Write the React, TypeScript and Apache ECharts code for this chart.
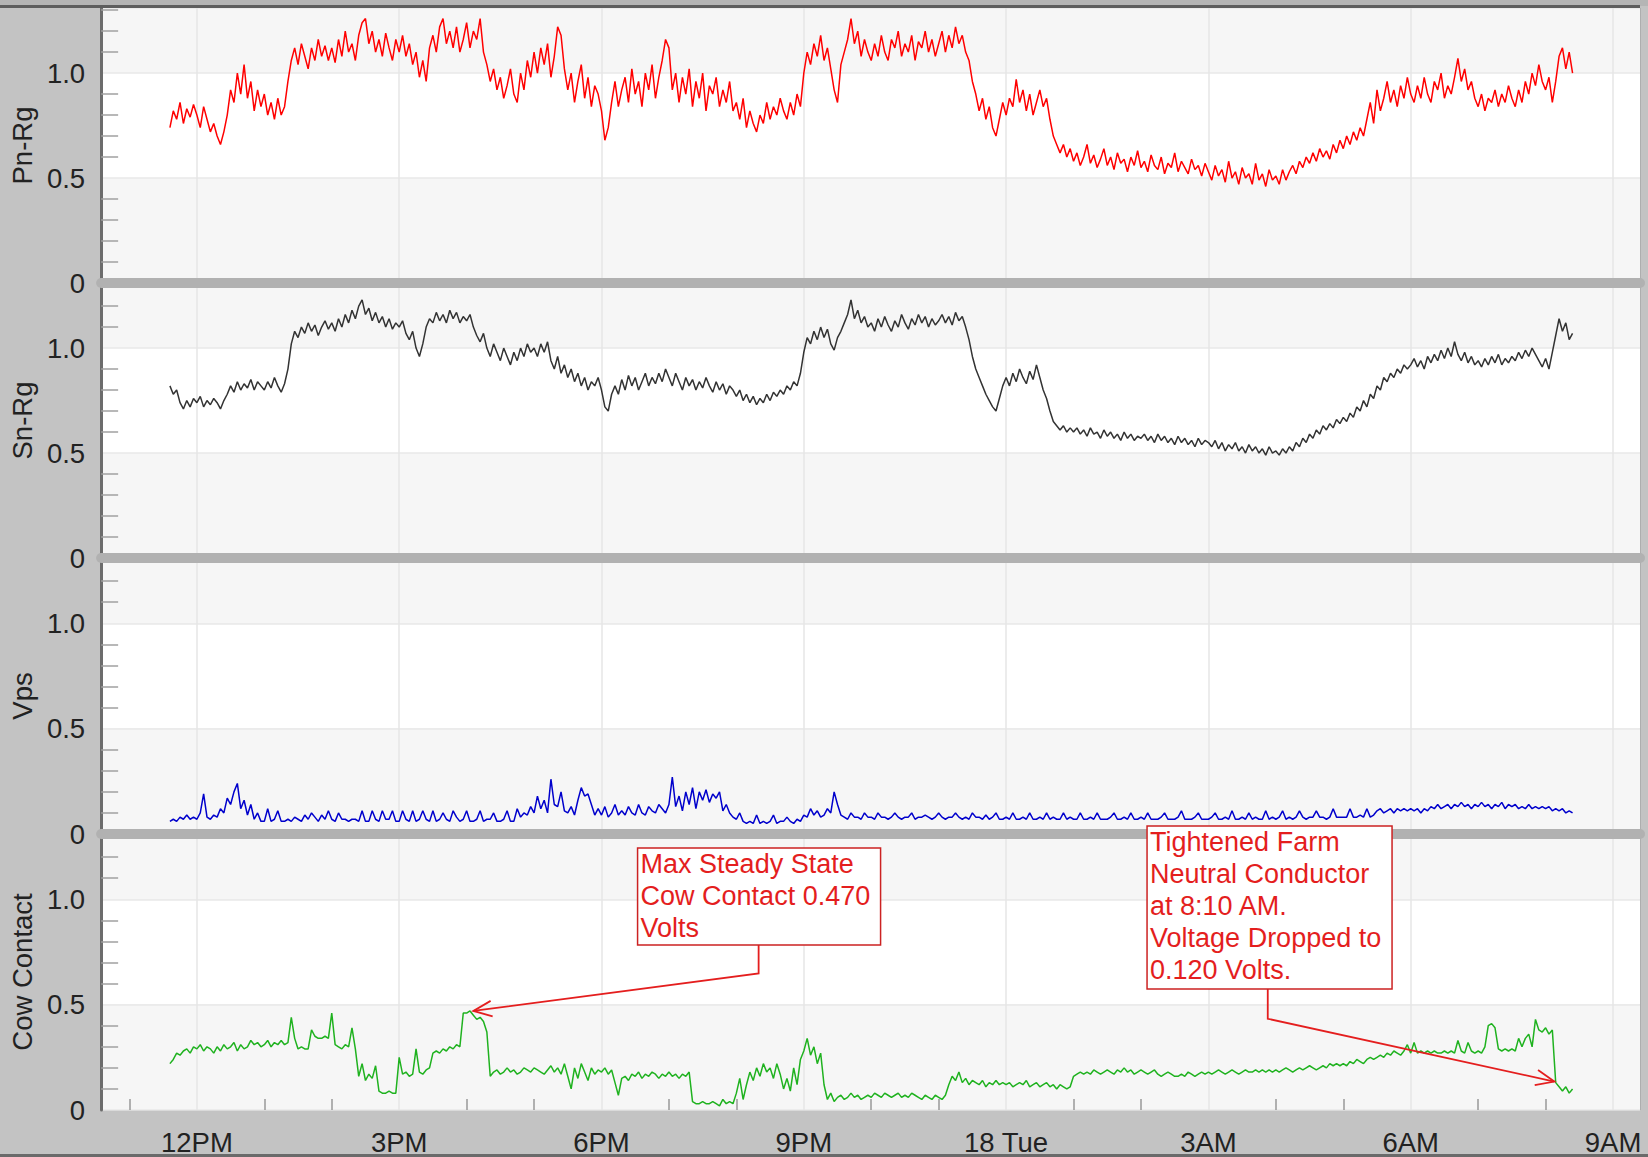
import { useEffect, useRef } from 'react';
import * as echarts from 'echarts';

const FONT = '"Liberation Sans", Arial, sans-serif';

// sampling grid (hours since midnight Monday; 24 = "18 Tue")
const T0 = 11.6;
const STEP = 0.05;

const X_MIN = 10.58;
const X_MAX = 33.4;
const Y_MAX = 1.31;

const xTickHours = [12, 15, 18, 21, 24, 27, 30, 33];
const xTickLabels = ['12PM', '3PM', '6PM', '9PM', '18 Tue', '3AM', '6AM', '9AM'];
const xHourTicks = [11, 13, 14, 16, 17, 19, 20, 22, 23, 25, 26, 28, 29, 31, 32];
const yMajorLabels: Record<string, string> = { '0': '0', '0.5': '0.5', '1': '1.0' };
const yMinorTicks = [0.1, 0.2, 0.3, 0.4, 0.6, 0.7, 0.8, 0.9, 1.1, 1.2, 1.3];

const panelNames = ['Pn-Rg', 'Sn-Rg', 'Vps', 'Cow Contact'];
const panelColors = ['#ff0000', '#333333', '#0000cc', '#1fb21f'];

// Pn-Rg, every 0.05 h from 11.6
const pnRg = [
  0.74, 0.82, 0.78, 0.86, 0.76, 0.83, 0.79, 0.85,
  0.80, 0.74, 0.84, 0.78, 0.72, 0.76, 0.70, 0.66, 0.72, 0.80, 0.92, 0.86, 1.00, 0.90, 1.04, 0.88, 0.96, 0.82, 0.92, 0.84,
  0.90, 0.80, 0.86, 0.78, 0.88, 0.80, 0.84, 0.96, 1.06, 1.12, 1.04, 1.14, 1.08, 1.02, 1.12, 1.06, 1.16, 1.08, 1.13, 1.06,
  1.12, 1.05, 1.16, 1.08, 1.20, 1.10, 1.14, 1.06, 1.18, 1.24, 1.26, 1.14, 1.20, 1.10, 1.16, 1.08, 1.19, 1.12, 1.06, 1.16,
  1.10, 1.18, 1.08, 1.14, 1.04, 1.10, 0.98, 1.06, 0.96, 1.12, 1.18, 1.10, 1.22, 1.26, 1.14, 1.20, 1.12, 1.22, 1.10, 1.16,
  1.24, 1.12, 1.20, 1.16, 1.26, 1.10, 1.04, 0.96, 1.02, 0.92, 0.98, 0.88, 0.94, 1.02, 0.90, 0.86, 1.00, 0.92, 1.06, 0.98,
  1.10, 1.00, 1.12, 1.04, 1.14, 0.98, 1.08, 1.22, 1.18, 1.02, 0.92, 1.00, 0.86, 0.96, 1.04, 0.88, 0.98, 0.84, 0.94, 0.90,
  0.82, 0.68, 0.74, 0.86, 0.96, 0.84, 0.92, 0.98, 0.86, 1.02, 0.90, 0.96, 0.84, 1.00, 0.92, 1.04, 0.88, 0.98, 1.06, 1.16,
  1.12, 0.92, 1.00, 0.86, 0.98, 0.90, 1.02, 0.84, 0.96, 0.88, 1.00, 0.82, 0.94, 0.90, 0.98, 0.84, 0.92, 0.86, 0.96, 0.82,
  0.86, 0.78, 0.88, 0.74, 0.82, 0.76, 0.72, 0.80, 0.76, 0.86, 0.78, 0.84, 0.80, 0.88, 0.82, 0.78, 0.86, 0.80, 0.90, 0.84,
  1.00, 1.10, 1.04, 1.14, 1.08, 1.18, 1.06, 1.12, 1.02, 0.92, 0.86, 1.04, 1.10, 1.16, 1.26, 1.14, 1.20, 1.08, 1.16, 1.10,
  1.06, 1.14, 1.08, 1.18, 1.10, 1.06, 1.16, 1.12, 1.20, 1.08, 1.14, 1.10, 1.18, 1.06, 1.15, 1.12, 1.20, 1.10, 1.16, 1.08,
  1.14, 1.20, 1.10, 1.18, 1.12, 1.22, 1.14, 1.18, 1.10, 1.06, 0.96, 0.90, 0.82, 0.88, 0.78, 0.84, 0.74, 0.70, 0.78, 0.86,
  0.80, 0.88, 0.84, 0.97, 0.86, 0.92, 0.82, 0.90, 0.80, 0.86, 0.92, 0.84, 0.88, 0.78, 0.70, 0.66, 0.62, 0.66, 0.60, 0.64,
  0.58, 0.62, 0.56, 0.60, 0.66, 0.57, 0.61, 0.55, 0.59, 0.64, 0.56, 0.60, 0.54, 0.62, 0.57, 0.59, 0.53, 0.60, 0.56, 0.63,
  0.55, 0.58, 0.53, 0.61, 0.56, 0.54, 0.60, 0.52, 0.57, 0.55, 0.62, 0.53, 0.58, 0.55, 0.52, 0.59, 0.54, 0.56, 0.51, 0.57,
  0.53, 0.49, 0.56, 0.51, 0.54, 0.48, 0.58, 0.50, 0.53, 0.47, 0.55, 0.50, 0.52, 0.47, 0.57, 0.49, 0.52, 0.46, 0.54, 0.49,
  0.51, 0.47, 0.54, 0.49, 0.53, 0.56, 0.52, 0.58, 0.55, 0.60, 0.57, 0.62, 0.58, 0.64, 0.60, 0.63, 0.59, 0.66, 0.62, 0.68,
  0.64, 0.70, 0.66, 0.72, 0.68, 0.74, 0.70, 0.78, 0.86, 0.76, 0.92, 0.82, 0.88, 0.96, 0.86, 0.92, 0.84, 0.94, 0.88, 0.98,
  0.90, 0.86, 0.94, 0.88, 0.98, 0.90, 0.86, 0.96, 0.92, 1.00, 0.88, 0.94, 0.90, 0.98, 1.07, 0.96, 1.02, 0.92, 0.96, 0.88,
  0.84, 0.90, 0.82, 0.88, 0.86, 0.92, 0.84, 0.90, 0.86, 0.94, 0.88, 0.84, 0.92, 0.86, 0.96, 0.90, 1.00, 0.94, 1.04, 0.96,
  0.92, 0.98, 0.86, 0.96, 1.08, 1.12, 1.02, 1.10, 1.00,
];

// Sn-Rg, every 0.05 h from 11.6
const snRg = [
  0.82, 0.78, 0.80, 0.74, 0.71, 0.75, 0.72, 0.76,
  0.74, 0.77, 0.72, 0.75, 0.73, 0.76, 0.74, 0.71, 0.75, 0.78, 0.82, 0.79, 0.84, 0.80, 0.83, 0.81, 0.85, 0.80, 0.84, 0.82,
  0.80, 0.84, 0.81, 0.86, 0.82, 0.79, 0.83, 0.90, 1.02, 1.08, 1.05, 1.10, 1.07, 1.12, 1.08, 1.11, 1.06, 1.10, 1.13, 1.09,
  1.12, 1.08, 1.14, 1.10, 1.16, 1.12, 1.18, 1.14, 1.20, 1.23, 1.16, 1.19, 1.13, 1.17, 1.12, 1.15, 1.10, 1.14, 1.09, 1.12,
  1.10, 1.13, 1.07, 1.04, 1.08, 1.00, 0.96, 1.02, 1.10, 1.14, 1.12, 1.17, 1.13, 1.16, 1.12, 1.18, 1.14, 1.17, 1.12, 1.15,
  1.13, 1.16, 1.10, 1.06, 1.03, 1.07, 1.00, 0.96, 1.02, 0.98, 0.94, 1.00, 0.96, 0.92, 0.98, 0.94, 1.00, 0.96, 1.02, 0.98,
  1.00, 0.96, 1.02, 0.98, 1.03, 0.94, 0.90, 0.96, 0.88, 0.92, 0.86, 0.90, 0.84, 0.88, 0.82, 0.86, 0.80, 0.84, 0.82, 0.86,
  0.80, 0.72, 0.70, 0.78, 0.82, 0.78, 0.85, 0.80, 0.87, 0.82, 0.86, 0.80, 0.84, 0.88, 0.82, 0.86, 0.83, 0.88, 0.84, 0.90,
  0.86, 0.82, 0.88, 0.84, 0.80, 0.86, 0.82, 0.85, 0.80, 0.84, 0.81, 0.86, 0.82, 0.79, 0.84, 0.80, 0.83, 0.78, 0.82, 0.80,
  0.77, 0.80, 0.75, 0.78, 0.74, 0.77, 0.73, 0.76, 0.74, 0.78, 0.75, 0.79, 0.77, 0.80, 0.78, 0.82, 0.80, 0.84, 0.82, 0.88,
  0.98, 1.05, 1.02, 1.08, 1.04, 1.10, 1.05, 1.09, 1.02, 0.99, 1.05, 1.08, 1.12, 1.16, 1.23, 1.14, 1.18, 1.12, 1.15, 1.10,
  1.12, 1.08, 1.14, 1.10, 1.15, 1.11, 1.08, 1.13, 1.10, 1.16, 1.12, 1.09, 1.14, 1.11, 1.16, 1.12, 1.15, 1.10, 1.14, 1.11,
  1.13, 1.16, 1.12, 1.15, 1.11, 1.17, 1.13, 1.15, 1.10, 1.04, 0.96, 0.90, 0.86, 0.82, 0.78, 0.75, 0.72, 0.70, 0.76, 0.82,
  0.86, 0.82, 0.88, 0.84, 0.90, 0.86, 0.83, 0.89, 0.85, 0.92, 0.86, 0.80, 0.76, 0.70, 0.65, 0.63, 0.61, 0.63, 0.60, 0.62,
  0.60, 0.62, 0.59, 0.61, 0.58, 0.62, 0.59, 0.60, 0.57, 0.61, 0.58, 0.60, 0.57, 0.59, 0.56, 0.60, 0.57, 0.59, 0.56, 0.58,
  0.57, 0.59, 0.56, 0.58, 0.55, 0.59, 0.56, 0.58, 0.55, 0.57, 0.54, 0.58, 0.55, 0.57, 0.54, 0.56, 0.53, 0.57, 0.54, 0.56,
  0.55, 0.53, 0.56, 0.52, 0.55, 0.51, 0.54, 0.52, 0.55, 0.51, 0.53, 0.50, 0.54, 0.51, 0.53, 0.50, 0.52, 0.49, 0.53, 0.50,
  0.51, 0.49, 0.52, 0.50, 0.53, 0.51, 0.55, 0.53, 0.57, 0.55, 0.59, 0.57, 0.61, 0.59, 0.63, 0.61, 0.64, 0.62, 0.66, 0.64,
  0.67, 0.65, 0.69, 0.67, 0.72, 0.70, 0.75, 0.72, 0.78, 0.76, 0.82, 0.80, 0.86, 0.84, 0.88, 0.86, 0.90, 0.88, 0.92, 0.90,
  0.92, 0.95, 0.91, 0.94, 0.90, 0.96, 0.93, 0.97, 0.94, 0.99, 0.95, 1.00, 0.96, 1.03, 0.97, 0.94, 0.98, 0.93, 0.96, 0.92,
  0.94, 0.91, 0.95, 0.92, 0.96, 0.93, 0.97, 0.92, 0.95, 0.93, 0.96, 0.94, 0.98, 0.95, 0.99, 0.96, 1.00, 0.97, 0.94, 0.91,
  0.95, 0.90, 0.98, 1.06, 1.14, 1.08, 1.12, 1.04, 1.07,
];

// Vps, every 0.05 h from 11.6
const vps = [
  0.06, 0.07, 0.06, 0.08, 0.07, 0.09, 0.07, 0.08,
  0.07, 0.10, 0.19, 0.08, 0.07, 0.09, 0.08, 0.12, 0.10, 0.17, 0.14, 0.20, 0.24, 0.12, 0.16, 0.09, 0.14, 0.07, 0.10, 0.06,
  0.06, 0.12, 0.06, 0.07, 0.11, 0.06, 0.06, 0.07, 0.06, 0.08, 0.07, 0.06, 0.09, 0.07, 0.10, 0.08, 0.06, 0.09, 0.07, 0.11,
  0.07, 0.06, 0.10, 0.07, 0.07, 0.06, 0.07, 0.07, 0.06, 0.11, 0.06, 0.06, 0.11, 0.07, 0.06, 0.11, 0.07, 0.07, 0.11, 0.06,
  0.06, 0.11, 0.07, 0.06, 0.11, 0.06, 0.07, 0.11, 0.07, 0.06, 0.11, 0.06, 0.07, 0.10, 0.07, 0.06, 0.11, 0.08, 0.06, 0.07,
  0.11, 0.06, 0.06, 0.07, 0.11, 0.06, 0.07, 0.07, 0.10, 0.06, 0.06, 0.07, 0.11, 0.06, 0.06, 0.12, 0.08, 0.10, 0.09, 0.13,
  0.10, 0.18, 0.12, 0.16, 0.10, 0.26, 0.14, 0.13, 0.20, 0.11, 0.10, 0.13, 0.09, 0.16, 0.22, 0.18, 0.19, 0.14, 0.09, 0.12,
  0.09, 0.13, 0.08, 0.10, 0.14, 0.09, 0.11, 0.09, 0.13, 0.10, 0.09, 0.14, 0.10, 0.09, 0.13, 0.11, 0.10, 0.14, 0.12, 0.10,
  0.14, 0.27, 0.13, 0.18, 0.11, 0.20, 0.14, 0.22, 0.12, 0.20, 0.16, 0.21, 0.15, 0.19, 0.17, 0.20, 0.11, 0.14, 0.10, 0.08,
  0.07, 0.10, 0.06, 0.05, 0.06, 0.05, 0.09, 0.05, 0.06, 0.05, 0.06, 0.09, 0.05, 0.06, 0.06, 0.08, 0.06, 0.05, 0.07, 0.06,
  0.09, 0.08, 0.12, 0.09, 0.11, 0.08, 0.09, 0.12, 0.10, 0.20, 0.14, 0.09, 0.08, 0.07, 0.10, 0.08, 0.08, 0.07, 0.10, 0.08,
  0.08, 0.07, 0.10, 0.08, 0.08, 0.07, 0.08, 0.10, 0.08, 0.07, 0.08, 0.08, 0.10, 0.07, 0.08, 0.08, 0.09, 0.08, 0.07, 0.08,
  0.10, 0.08, 0.07, 0.08, 0.08, 0.10, 0.08, 0.07, 0.08, 0.07, 0.10, 0.08, 0.08, 0.07, 0.09, 0.07, 0.08, 0.10, 0.07, 0.07,
  0.08, 0.07, 0.10, 0.07, 0.07, 0.08, 0.07, 0.10, 0.07, 0.07, 0.08, 0.07, 0.10, 0.07, 0.08, 0.07, 0.07, 0.10, 0.07, 0.08,
  0.07, 0.07, 0.10, 0.07, 0.07, 0.08, 0.07, 0.10, 0.07, 0.07, 0.07, 0.08, 0.10, 0.07, 0.07, 0.08, 0.07, 0.10, 0.07, 0.07,
  0.08, 0.07, 0.10, 0.07, 0.07, 0.07, 0.08, 0.10, 0.07, 0.07, 0.07, 0.08, 0.11, 0.07, 0.07, 0.07, 0.08, 0.10, 0.07, 0.07,
  0.07, 0.08, 0.10, 0.07, 0.07, 0.08, 0.07, 0.11, 0.07, 0.07, 0.08, 0.07, 0.10, 0.07, 0.08, 0.07, 0.07, 0.11, 0.07, 0.08,
  0.07, 0.08, 0.11, 0.07, 0.08, 0.07, 0.08, 0.11, 0.08, 0.07, 0.08, 0.08, 0.11, 0.08, 0.08, 0.07, 0.08, 0.12, 0.08, 0.08,
  0.08, 0.08, 0.12, 0.08, 0.08, 0.09, 0.08, 0.12, 0.08, 0.09, 0.11, 0.12, 0.10, 0.11, 0.12, 0.10, 0.12, 0.11, 0.12, 0.11,
  0.12, 0.11, 0.12, 0.10, 0.12, 0.11, 0.13, 0.12, 0.14, 0.12, 0.13, 0.14, 0.12, 0.14, 0.13, 0.15, 0.13, 0.14, 0.12, 0.14,
  0.13, 0.15, 0.13, 0.14, 0.12, 0.14, 0.13, 0.15, 0.12, 0.14, 0.13, 0.14, 0.12, 0.13, 0.12, 0.14, 0.12, 0.13, 0.12, 0.13,
  0.12, 0.13, 0.11, 0.12, 0.11, 0.12, 0.10, 0.11, 0.10,
];

// Cow Contact, every 0.05 h from 11.6
const cowContact = [
  0.22, 0.24, 0.27, 0.26, 0.28, 0.29, 0.27, 0.30,
  0.29, 0.31, 0.28, 0.30, 0.29, 0.27, 0.30, 0.28, 0.31, 0.29, 0.30, 0.32, 0.28, 0.31, 0.29, 0.30, 0.33, 0.31, 0.32, 0.30,
  0.31, 0.33, 0.30, 0.32, 0.31, 0.33, 0.31, 0.32, 0.44, 0.34, 0.29, 0.30, 0.29, 0.29, 0.38, 0.35, 0.34, 0.34, 0.35, 0.34,
  0.46, 0.31, 0.30, 0.29, 0.31, 0.30, 0.39, 0.29, 0.16, 0.22, 0.14, 0.17, 0.15, 0.21, 0.09, 0.08, 0.08, 0.09, 0.08, 0.08,
  0.25, 0.17, 0.18, 0.16, 0.17, 0.29, 0.18, 0.17, 0.19, 0.20, 0.27, 0.28, 0.27, 0.29, 0.28, 0.30, 0.29, 0.31, 0.30, 0.46,
  0.46, 0.47, 0.45, 0.43, 0.44, 0.42, 0.37, 0.16, 0.18, 0.19, 0.17, 0.18, 0.20, 0.18, 0.19, 0.17, 0.18, 0.20, 0.19, 0.18,
  0.20, 0.19, 0.18, 0.17, 0.19, 0.21, 0.18, 0.20, 0.17, 0.22, 0.16, 0.10, 0.20, 0.15, 0.22, 0.18, 0.14, 0.20, 0.17, 0.19,
  0.18, 0.20, 0.17, 0.19, 0.13, 0.07, 0.15, 0.16, 0.14, 0.17, 0.16, 0.18, 0.15, 0.17, 0.16, 0.18, 0.17, 0.15, 0.17, 0.16,
  0.18, 0.16, 0.17, 0.15, 0.17, 0.16, 0.18, 0.04, 0.03, 0.03, 0.04, 0.03, 0.03, 0.04, 0.03, 0.02, 0.05, 0.03, 0.04, 0.03,
  0.08, 0.15, 0.05, 0.12, 0.18, 0.14, 0.20, 0.16, 0.22, 0.18, 0.20, 0.15, 0.22, 0.17, 0.10, 0.15, 0.09, 0.20, 0.12, 0.24,
  0.28, 0.34, 0.26, 0.30, 0.22, 0.27, 0.12, 0.05, 0.08, 0.04, 0.06, 0.07, 0.05, 0.06, 0.08, 0.06, 0.07, 0.05, 0.06, 0.07,
  0.06, 0.08, 0.07, 0.06, 0.08, 0.07, 0.06, 0.07, 0.08, 0.06, 0.07, 0.06, 0.08, 0.07, 0.06, 0.05, 0.07, 0.06, 0.05, 0.07,
  0.06, 0.05, 0.07, 0.12, 0.16, 0.14, 0.18, 0.13, 0.15, 0.12, 0.14, 0.13, 0.12, 0.14, 0.11, 0.13, 0.12, 0.14, 0.12, 0.13,
  0.12, 0.13, 0.11, 0.12, 0.13, 0.12, 0.14, 0.11, 0.12, 0.13, 0.11, 0.12, 0.13, 0.11, 0.12, 0.10, 0.12, 0.11, 0.10, 0.11,
  0.16, 0.17, 0.18, 0.17, 0.18, 0.17, 0.19, 0.18, 0.17, 0.18, 0.19, 0.18, 0.17, 0.19, 0.18, 0.20, 0.18, 0.19, 0.17, 0.18,
  0.19, 0.18, 0.17, 0.18, 0.19, 0.17, 0.16, 0.17, 0.18, 0.17, 0.16, 0.16, 0.17, 0.16, 0.18, 0.17, 0.16, 0.17, 0.18, 0.17,
  0.18, 0.17, 0.18, 0.19, 0.18, 0.17, 0.18, 0.19, 0.18, 0.17, 0.18, 0.19, 0.18, 0.18, 0.19, 0.18, 0.19, 0.18, 0.19, 0.18,
  0.19, 0.18, 0.19, 0.20, 0.19, 0.18, 0.19, 0.20, 0.19, 0.20, 0.21, 0.20, 0.19, 0.20, 0.21, 0.20, 0.22, 0.21, 0.22, 0.21,
  0.22, 0.21, 0.23, 0.22, 0.24, 0.23, 0.22, 0.24, 0.25, 0.24, 0.25, 0.26, 0.25, 0.27, 0.26, 0.28, 0.27, 0.26, 0.28, 0.31,
  0.27, 0.32, 0.27, 0.28, 0.27, 0.28, 0.27, 0.28, 0.27, 0.27, 0.28, 0.27, 0.28, 0.27, 0.33, 0.28, 0.27, 0.32, 0.28, 0.27,
  0.28, 0.27, 0.30, 0.40, 0.41, 0.39, 0.29, 0.28, 0.29, 0.28, 0.29, 0.28, 0.34, 0.30, 0.34, 0.36, 0.30, 0.43, 0.38, 0.37,
  0.39, 0.36, 0.38, 0.13, 0.11, 0.09, 0.11, 0.08, 0.10,
];

// annotation anchors in the Cow Contact panel's data coordinates (hour, volts)
const annotations = [
  {
    lines: ['Max Steady State', 'Cow Contact 0.470', 'Volts'],
    boxAt: [18.535, 1.243], boxW: 243, boxH: 97,
    elbow: [20.33, 0.648], tip: [16.1, 0.47],
  },
  {
    lines: ['Tightened Farm', 'Neutral Conductor', 'at 8:10 AM.', 'Voltage Dropped to', '0.120 Volts.'],
    boxAt: [26.09, 1.348], boxW: 245, boxH: 163,
    elbow: [27.88, 0.433], tip: [32.13, 0.135],
  },
];

const PANEL_TOPS = [8, 283, 558, 834];
const PANEL_HEIGHTS = [275, 275, 276, 276];
const LABEL_SIZE = 27.5;

function toPairs(values: number[]) {
  return values.map((v, i) => [Math.round((T0 + i * STEP) * 1000) / 1000, v]);
}

export default function App() {
  const ref = useRef<HTMLDivElement>(null);

  useEffect(() => {
    if (!ref.current) return;
    const chart = echarts.init(ref.current, null, { renderer: 'svg' });
    const seriesData = [pnRg, snRg, vps, cowContact].map(toPairs);

    const grids = PANEL_TOPS.map((top, i) => ({
      left: 100, right: 8, top, height: PANEL_HEIGHTS[i],
      show: true, borderColor: '#9a9a9a', borderWidth: 1, backgroundColor: 'transparent',
    }));

    const xAxes: any[] = PANEL_TOPS.map((_, i) => ({
      type: 'value', gridIndex: i, min: X_MIN, max: X_MAX, position: 'bottom', z: 1,
      axisLine: i < 3 ? { show: true, onZero: false, lineStyle: { color: '#b1b1b1', width: 10 } } : { show: false },
      axisTick: { show: false, customValues: xTickHours },
      splitLine: { show: true, lineStyle: { color: '#e6e6e6', width: 1.5 } },
      axisLabel: i === 3 ? {
        show: true, customValues: xTickHours, margin: 18,
        fontFamily: FONT, fontSize: LABEL_SIZE, color: '#222',
        formatter: (v: number) => { const k = xTickHours.indexOf(Math.round(v)); return k >= 0 ? xTickLabels[k] : ''; },
      } : { show: false },
    }));
    xAxes.push({
      type: 'value', gridIndex: 3, min: X_MIN, max: X_MAX, position: 'bottom', z: 1,
      axisLine: { show: false },
      axisTick: { show: true, inside: true, length: 11, customValues: xHourTicks, lineStyle: { color: '#999', width: 1.5 } },
      axisLabel: { show: false }, splitLine: { show: false },
    });

    const yAxes: any[] = PANEL_TOPS.map((_, i) => ({
      type: 'value', gridIndex: i, min: 0, max: Y_MAX, interval: 0.5, position: 'left',
      name: panelNames[i], nameLocation: 'middle', nameGap: 62,
      nameTextStyle: { fontFamily: FONT, fontSize: LABEL_SIZE, color: '#222' },
      axisLine: { show: true, lineStyle: { color: '#6c6c6c', width: 3 } },
      axisTick: { show: false },
      axisLabel: {
        show: true, margin: 16, fontFamily: FONT, fontSize: LABEL_SIZE, color: '#222',
        formatter: (v: number) => yMajorLabels[String(Math.round(v * 10) / 10)] ?? '',
      },
      splitLine: { show: true, lineStyle: { color: '#e8e8e8', width: 1.5 } },
      splitArea: { show: true, areaStyle: { color: ['#f6f6f6', '#ffffff'] } },
    }));
    PANEL_TOPS.forEach((_, i) => {
      yAxes.push({
        type: 'value', gridIndex: i, min: 0, max: Y_MAX, position: 'left',
        axisLine: { show: false },
        axisTick: { show: true, inside: true, length: 17, customValues: yMinorTicks, lineStyle: { color: '#a0a0a0', width: 1.5 } },
        axisLabel: { show: false }, splitLine: { show: false }, splitArea: { show: false },
      });
    });

    const series = seriesData.map((d, i) => ({
      type: 'line', xAxisIndex: i, yAxisIndex: i, data: d, showSymbol: false, symbol: 'none',
      lineStyle: { color: panelColors[i], width: 1.5 }, z: 5, silent: true,
    }));

    chart.setOption({
      animation: false,
      backgroundColor: '#c3c3c3',
      grid: grids, xAxis: xAxes, yAxis: yAxes, series,
    });

    const red = '#e41e1e';
    const graphics: any[] = [
      { type: 'rect', shape: { x: 0, y: 0, width: 1648, height: 6 }, style: { fill: '#b5b5b5' }, z: 50 },
      { type: 'rect', shape: { x: 0, y: 5, width: 1640, height: 3 }, style: { fill: '#5e5e5e' }, z: 50 },
      { type: 'rect', shape: { x: 0, y: 1154, width: 1648, height: 3 }, style: { fill: '#6a6a6a' }, z: 50 },
    ];
    annotations.forEach((a) => {
      const [bx, by] = chart.convertToPixel({ gridIndex: 3 }, a.boxAt) as number[];
      const [ex, ey] = chart.convertToPixel({ gridIndex: 3 }, a.elbow) as number[];
      const [tx, ty] = chart.convertToPixel({ gridIndex: 3 }, a.tip) as number[];
      const ang = Math.atan2(ty - ey, tx - ex);
      const L = 20, spread = 0.4;
      graphics.push({
        type: 'polyline', z: 100,
        shape: { points: [[ex, by + a.boxH], [ex, ey], [tx, ty]] },
        style: { stroke: red, lineWidth: 1.8, fill: 'none' },
      });
      graphics.push({
        type: 'polyline', z: 100,
        shape: { points: [
          [tx - L * Math.cos(ang - spread), ty - L * Math.sin(ang - spread)],
          [tx, ty],
          [tx - L * Math.cos(ang + spread), ty - L * Math.sin(ang + spread)],
        ] },
        style: { stroke: red, lineWidth: 1.8, fill: 'none' },
      });
      graphics.push({
        type: 'rect', z: 101,
        shape: { x: bx, y: by, width: a.boxW, height: a.boxH },
        style: { fill: '#ffffff', stroke: '#cc2222', lineWidth: 1.5 },
      });
      graphics.push({
        type: 'text', z: 102, x: bx + 3, y: by,
        style: { text: a.lines.join('\n'), fill: red, font: `27px ${FONT}`, lineHeight: 32, align: 'left', verticalAlign: 'top' },
      });
    });
    chart.setOption({ graphic: graphics });

    return () => chart.dispose();
  }, []);

  return (
    <div
      ref={ref}
      style={{ position: 'fixed', left: 0, top: 0, width: 1648, height: 1157, background: '#c3c3c3' }}
    />
  );
}
